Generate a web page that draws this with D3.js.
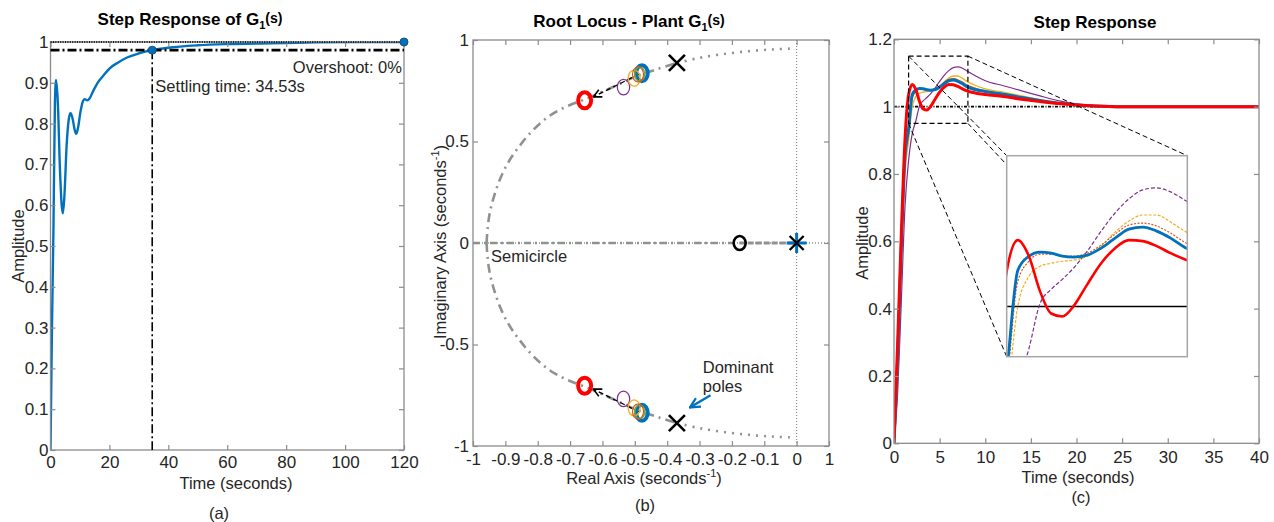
<!DOCTYPE html>
<html>
<head>
<meta charset="utf-8">
<script src="https://cdn.jsdelivr.net/npm/d3@7/dist/d3.min.js"></script>
<style>
  body { margin: 0; background: #fff; }
  svg text { font-family: "Liberation Sans", Arial, sans-serif; fill: #262626; }
  .tick text { font-size: 17px; }
  .lbl { font-size: 16.5px; }
  .ttl { font-size: 17px; font-weight: bold; fill: #000; }
</style>
</head>
<body>
<div id="fig"></div>
<script>
// ---------- (a) step response of G1(s) ----------
var aTime = [0, 0.5, 1.0, 1.5, 1.9, 2.5, 3.2, 3.8, 4.2, 4.7, 5.5, 6.2, 6.8, 7.5, 8.2, 8.7, 9.3, 10.2, 11.0, 11.6,
             12.5, 13.3, 14.5, 16, 18, 20, 23, 26, 30, 34.53, 40, 50, 60, 75, 90, 105, 120];
var aAmp  = [0, 0.3, 0.54, 0.85, 0.907, 0.85, 0.69, 0.6, 0.58, 0.62, 0.75, 0.81, 0.826, 0.812, 0.785, 0.775, 0.788, 0.83, 0.855, 0.86,
             0.857, 0.862, 0.88, 0.9, 0.918, 0.935, 0.95, 0.962, 0.972, 0.98, 0.986, 0.992, 0.995, 0.997, 0.999, 1.0, 1.0];
var aSettleT = 34.53, aSettleY = 0.98, aFinalT = 120, aFinalY = 1;
var aXTicks = [0, 20, 40, 60, 80, 100, 120];
var aXLabels = ["0", "20", "40", "60", "80", "100", "120"];
var aYTicks = [0, 0.1, 0.2, 0.3, 0.4, 0.5, 0.6, 0.7, 0.8, 0.9, 1];
var aYLabels = ["0", "0.1", "0.2", "0.3", "0.4", "0.5", "0.6", "0.7", "0.8", "0.9", "1"];

// ---------- (b) root locus ----------
var locusRe = [-0.958, -0.955, -0.948, -0.935, -0.915, -0.89, -0.86, -0.824, -0.785, -0.745, -0.7,
               -0.655, -0.6, -0.545, -0.49, -0.43, -0.37, -0.3, -0.22, -0.14, -0.07, -0.015];
var locusIm = [0, 0.07, 0.15, 0.23, 0.32, 0.4, 0.47, 0.54, 0.6, 0.645, 0.68,
               0.707, 0.745, 0.785, 0.825, 0.857, 0.887, 0.912, 0.932, 0.946, 0.954, 0.958];
var locusSplit = 16;                    // index of the open-loop complex pole
var olPoleRe = -0.37, olPoleIm = 0.887; // plant complex poles (x)
var olZeroRe = -0.176;                  // plant zero (o)
var olOriginRe = 0;                     // integrator pole (*)
var clNames = ["purple", "orange", "orangered", "green", "blue", "red"];
var clRe = [-0.535, -0.502, -0.49, -0.485, -0.478, -0.655];
var clIm = [0.768, 0.812, 0.83, 0.832, 0.836, 0.703];
var arrowFrom = [-0.487, 0.832], arrowTo = [-0.628, 0.72];
var domFrom = [-0.266, -0.75], domTo = [-0.33, -0.81];
var bXTicks = [-1, -0.9, -0.8, -0.7, -0.6, -0.5, -0.4, -0.3, -0.2, -0.1, 0, 0.1];
var bXLabels = ["-1", "-0.9", "-0.8", "-0.7", "-0.6", "-0.5", "-0.4", "-0.3", "-0.2", "-0.1", "0", "1"];
var bYTicks = [-1, -0.5, 0, 0.5, 1];
var bYLabels = ["-1", "-0.5", "0", "0.5", "1"];

// ---------- (c) closed-loop step responses ----------
var cTime      = [0, 0.4, 0.8, 1.2, 1.6, 2.0, 2.4, 2.8, 3.2, 3.6, 4.0, 4.5, 5.0, 5.5, 6.0, 6.5, 7.0, 7.5, 8.0, 9, 10, 12, 14, 16, 18, 20, 22, 25, 30, 35, 40];
var cRed       = [0, 0.3, 0.62, 0.9, 1.035, 1.066, 1.05, 1.015, 0.993, 0.99, 1.0, 1.022, 1.043, 1.058, 1.066, 1.065, 1.06, 1.053, 1.047, 1.04, 1.036, 1.03, 1.022, 1.015, 1.009, 1.005, 1.002, 1.0, 1.0, 1.0, 1.0];
var cBlue      = [0, 0.25, 0.58, 0.85, 0.935, 1.036, 1.05, 1.054, 1.053, 1.05, 1.049, 1.051, 1.058, 1.068, 1.077, 1.079, 1.075, 1.068, 1.059, 1.05, 1.045, 1.037, 1.027, 1.018, 1.01, 1.005, 1.002, 1.0, 1.0, 1.0, 1.0];
var cOrangeRed = [0, 0.24, 0.56, 0.83, 0.92, 1.025, 1.045, 1.052, 1.052, 1.05, 1.05, 1.053, 1.061, 1.072, 1.081, 1.083, 1.08, 1.073, 1.064, 1.054, 1.047, 1.039, 1.029, 1.019, 1.011, 1.005, 1.002, 1.0, 1.0, 1.0, 1.0];
var cOrange    = [0, 0.22, 0.53, 0.8, 0.9, 1.0, 1.03, 1.04, 1.043, 1.045, 1.046, 1.05, 1.06, 1.074, 1.085, 1.091, 1.091, 1.084, 1.075, 1.062, 1.053, 1.043, 1.032, 1.021, 1.012, 1.006, 1.002, 1.0, 1.0, 1.0, 1.0];
var cPurple    = [0, 0.15, 0.42, 0.7, 0.84, 0.92, 0.958, 1.003, 1.017, 1.027, 1.038, 1.055, 1.075, 1.093, 1.107, 1.116, 1.118, 1.114, 1.106, 1.09, 1.077, 1.062, 1.047, 1.032, 1.018, 1.008, 1.003, 1.0, 1.0, 1.0, 1.0];
var zoomT = [1.6, 8.1], zoomY = [0.95, 1.15];
var cXTicks = [0, 5, 10, 15, 20, 25, 30, 35, 40];
var cXLabels = ["0", "5", "10", "15", "20", "25", "30", "35", "40"];
var cYTicks = [0, 0.2, 0.4, 0.6, 0.8, 1, 1.2];
var cYLabels = ["0", "0.2", "0.4", "0.6", "0.8", "1", "1.2"];

var BLUE = "#0072BD", RED = "#FF0000", ORED = "#D95319", ORANGE = "#EDB120", PURPLE = "#7E2F8E", GREEN = "#77AC30";
var AX = "#8c8c8c";
var GRAYLOC = "#8e938e";

var svg = d3.select("#fig").append("svg").attr("width", 1274).attr("height", 522);
var defs = svg.append("defs");

// MATLAB style box with inward ticks on all sides
function frame(x, y, o) {
    var xr = x.range(), yr = y.range();
    var g = svg.append("g");
    g.append("rect").attr("x", xr[0]).attr("y", yr[1]).attr("width", xr[1] - xr[0]).attr("height", yr[0] - yr[1])
        .attr("fill", "none").attr("stroke", AX).attr("stroke-width", 1.3);
    var lab = function (arr) { return function (d, i) { return arr[i]; }; };
    var none = function () { return ""; };
    var axes = [
        g.append("g").attr("transform", "translate(0," + yr[0] + ")")
            .call(d3.axisBottom(x).tickValues(o.xTicks).tickFormat(lab(o.xLabels)).tickSize(-5).tickPadding(o.xPad)),
        g.append("g").attr("transform", "translate(0," + yr[1] + ")")
            .call(d3.axisTop(x).tickValues(o.xTicks).tickFormat(none).tickSize(-5)),
        g.append("g").attr("transform", "translate(" + xr[0] + ",0)")
            .call(d3.axisLeft(y).tickValues(o.yTicks).tickFormat(lab(o.yLabels)).tickSize(-5).tickPadding(o.yPad)),
        g.append("g").attr("transform", "translate(" + xr[1] + ",0)")
            .call(d3.axisRight(y).tickValues(o.yTicks).tickFormat(none).tickSize(-5))
    ];
    axes.forEach(function (a) {
        a.select(".domain").remove();
        a.selectAll(".tick line").attr("stroke", AX).attr("stroke-width", 1.2);
    });
    return g;
}

function clip(id, x, y) {
    var xr = x.range(), yr = y.range();
    defs.append("clipPath").attr("id", id).append("rect")
        .attr("x", xr[0]).attr("y", yr[1]).attr("width", xr[1] - xr[0]).attr("height", yr[0] - yr[1]);
    return "url(#" + id + ")";
}

function title(cx, cy, main, sub, tail) {
    var t = svg.append("text").attr("class", "ttl").attr("x", cx).attr("y", cy).attr("text-anchor", "middle");
    t.append("tspan").text(main);
    if (sub) t.append("tspan").attr("font-size", "11px").attr("dy", 4).text(sub);
    if (tail) t.append("tspan").attr("font-size", "14px").attr("dy", -6).text(tail);
}

function secLabel(t, pre) {
    t.append("tspan").text(pre + " (seconds");
    t.append("tspan").attr("font-size", "11px").attr("dy", -7).text("-1");
    t.append("tspan").attr("dy", 7).text(")");
}

/* ===================== panel (a) ===================== */
var xA = d3.scaleLinear().domain([0, 120]).range([50.5, 404]);
var yA = d3.scaleLinear().domain([0, 1]).range([450, 42]);
var clipA = clip("clipA", xA, yA);

svg.append("path").datum(d3.zip(aTime, aAmp))
    .attr("clip-path", clipA)
    .attr("fill", "none").attr("stroke", BLUE).attr("stroke-width", 2.4)
    .attr("d", d3.line().x(function (d) { return xA(d[0]); }).y(function (d) { return yA(d[1]); }).curve(d3.curveMonotoneX));

frame(xA, yA, {xTicks: aXTicks, xLabels: aXLabels, yTicks: aYTicks, yLabels: aYLabels, xPad: 6, yPad: 2});

// steady-state and settling lines
svg.append("line").attr("x1", xA(0)).attr("x2", xA(120)).attr("y1", yA(aFinalY)).attr("y2", yA(aFinalY))
    .attr("stroke", "#222").attr("stroke-width", 2).attr("stroke-dasharray", "1.2,1.2");
svg.append("line").attr("x1", xA(0)).attr("x2", xA(120)).attr("y1", yA(aSettleY)).attr("y2", yA(aSettleY))
    .attr("stroke", "#000").attr("stroke-width", 2.6).attr("stroke-dasharray", "9,3,2,3");
svg.append("line").attr("x1", xA(aSettleT)).attr("x2", xA(aSettleT)).attr("y1", yA(aSettleY)).attr("y2", yA(0))
    .attr("stroke", "#000").attr("stroke-width", 1.6).attr("stroke-dasharray", "9,3,2,3");
svg.selectAll(".amark").data([[aSettleT, aSettleY], [aFinalT, aFinalY]]).enter().append("circle")
    .attr("cx", function (d) { return xA(d[0]); }).attr("cy", function (d) { return yA(d[1]); })
    .attr("r", 4).attr("fill", BLUE).attr("stroke", "#1f4f80").attr("stroke-width", 1);

svg.append("text").attr("class", "lbl").attr("x", xA(119.3)).attr("y", yA(0.925)).attr("text-anchor", "end").text("Overshoot: 0%");
svg.append("text").attr("class", "lbl").attr("x", xA(35.6)).attr("y", yA(0.878)).text("Settling time: 34.53s");

title(190, 25, "Step Response of G", "1", "(s)");
svg.append("text").attr("class", "lbl").attr("transform", "translate(24,246) rotate(-90)").attr("text-anchor", "middle").text("Amplitude");
svg.append("text").attr("class", "lbl").attr("x", 236).attr("y", 489).attr("text-anchor", "middle").text("Time (seconds)");
svg.append("text").attr("class", "lbl").attr("x", 219).attr("y", 519).attr("text-anchor", "middle").text("(a)");

/* ===================== panel (b) ===================== */
var xB = d3.scaleLinear().domain([-1, 0.1]).range([473, 829]);
var yB = d3.scaleLinear().domain([-1, 1]).range([446, 40]);
var clipB = clip("clipB", xB, yB);
var gB = svg.append("g").attr("clip-path", clipB);
var lineB = d3.line().x(function (d) { return xB(d[0]); }).y(function (d) { return yB(d[1]); }).curve(d3.curveCatmullRom);

// grid-like axes through the origin
gB.append("line").attr("x1", xB(-1)).attr("x2", xB(0.1)).attr("y1", yB(0)).attr("y2", yB(0))
    .attr("stroke", "#555").attr("stroke-width", 1).attr("stroke-dasharray", "1,2");
gB.append("line").attr("x1", xB(0)).attr("x2", xB(0)).attr("y1", yB(1)).attr("y2", yB(-1))
    .attr("stroke", "#777").attr("stroke-width", 1).attr("stroke-dasharray", "1,2");

// real-axis branches
gB.append("line").attr("x1", xB(-1)).attr("x2", xB(olZeroRe)).attr("y1", yB(0)).attr("y2", yB(0))
    .attr("stroke", GRAYLOC).attr("stroke-width", 2.6).attr("stroke-dasharray", "7,4,2,4");
gB.append("line").attr("x1", xB(olZeroRe)).attr("x2", xB(olOriginRe)).attr("y1", yB(0)).attr("y2", yB(0))
    .attr("stroke", GRAYLOC).attr("stroke-width", 3).attr("stroke-dasharray", "6,2");

// complex branches (upper and mirrored lower)
[1, -1].forEach(function (s) {
    var pts = d3.zip(locusRe, locusIm.map(function (v) { return s * v; }));
    gB.append("path").datum(pts.slice(0, locusSplit + 1))
        .attr("fill", "none").attr("stroke", GRAYLOC).attr("stroke-width", 2.6)
        .attr("stroke-dasharray", "9,5,2,5").attr("d", lineB);
    gB.append("path").datum(pts.slice(locusSplit))
        .attr("fill", "none").attr("stroke", GRAYLOC).attr("stroke-width", 2.6)
        .attr("stroke-dasharray", "2,6").attr("d", lineB);
});

frame(xB, yB, {xTicks: bXTicks, xLabels: bXLabels, yTicks: bYTicks, yLabels: bYLabels, xPad: 7, yPad: 4});

// arrow heads: tip at the end of the line, open chevron
defs.append("marker").attr("id", "openHead").attr("viewBox", "0 0 10 10").attr("refX", 9).attr("refY", 5)
    .attr("markerWidth", 10).attr("markerHeight", 10).attr("markerUnits", "userSpaceOnUse").attr("orient", "auto")
    .append("path").attr("d", "M1,1L9,5L1,9").attr("fill", "none").attr("stroke", "#000").attr("stroke-width", 1.6);
defs.append("marker").attr("id", "blueHead").attr("viewBox", "0 0 12 12").attr("refX", 11).attr("refY", 6)
    .attr("markerWidth", 12).attr("markerHeight", 12).attr("markerUnits", "userSpaceOnUse").attr("orient", "auto")
    .append("path").attr("d", "M1,1L11,6L1,11").attr("fill", "none").attr("stroke", BLUE).attr("stroke-width", 2.2);

[1, -1].forEach(function (s) {
    svg.append("line").attr("x1", xB(arrowFrom[0])).attr("y1", yB(s * arrowFrom[1]))
        .attr("x2", xB(arrowTo[0])).attr("y2", yB(s * arrowTo[1]))
        .attr("stroke", "#000").attr("stroke-width", 1.3).attr("stroke-dasharray", "5,3")
        .attr("marker-end", "url(#openHead)");
});

// closed-loop poles
var ringStyle = {
    purple:    {c: PURPLE, rx: 6.2, ry: 7.8, w: 1.2},
    orange:    {c: ORANGE, rx: 6, ry: 8, w: 1.3},
    orangered: {c: ORED, rx: 5.5, ry: 7.5, w: 1.2},
    green:     {c: GREEN, rx: 5, ry: 7, w: 1.4},
    blue:      {c: BLUE, rx: 5.8, ry: 8, w: 4},
    red:       {c: RED, rx: 6.5, ry: 8, w: 4}
};
// blue under the thin rings so the cluster reads like the figure
var ringOrder = ["blue", "purple", "orange", "green", "orangered", "red"];
ringOrder.forEach(function (name) {
    var i = clNames.indexOf(name), st = ringStyle[name];
    [1, -1].forEach(function (s) {
        svg.append("ellipse").attr("cx", xB(clRe[i])).attr("cy", yB(s * clIm[i]))
            .attr("rx", st.rx).attr("ry", st.ry).attr("fill", "none")
            .attr("stroke", st.c).attr("stroke-width", st.w);
    });
});

// plant poles and zero
[1, -1].forEach(function (s) {
    svg.append("path").attr("transform", "translate(" + xB(olPoleRe) + "," + yB(s * olPoleIm) + ")")
        .attr("d", "M-8,-8L8,8M-8,8L8,-8").attr("stroke", "#000").attr("stroke-width", 2.6);
});
svg.append("ellipse").attr("cx", xB(olZeroRe)).attr("cy", yB(0)).attr("rx", 6).attr("ry", 7)
    .attr("fill", "none").attr("stroke", "#000").attr("stroke-width", 2.6);
var ast = svg.append("g").attr("transform", "translate(" + xB(olOriginRe) + "," + yB(0) + ")");
ast.append("path").attr("d", "M-10,0L10,0M0,-10L0,10").attr("stroke", BLUE).attr("stroke-width", 3);
ast.append("path").attr("d", "M-7,-7L7,7M-7,7L7,-7").attr("stroke", "#000").attr("stroke-width", 2.4);

// annotations
svg.append("text").attr("class", "lbl").attr("x", xB(-0.944)).attr("y", yB(-0.094)).text("Semicircle");
svg.append("text").attr("class", "lbl").attr("x", xB(-0.29)).attr("y", yB(-0.64)).text("Dominant");
svg.append("text").attr("class", "lbl").attr("x", xB(-0.29)).attr("y", yB(-0.735)).text("poles");
svg.append("line").attr("x1", xB(domFrom[0])).attr("y1", yB(domFrom[1])).attr("x2", xB(domTo[0])).attr("y2", yB(domTo[1]))
    .attr("stroke", BLUE).attr("stroke-width", 2.4).attr("marker-end", "url(#blueHead)");

title(629, 27, "Root Locus - Plant G", "1", "(s)");
secLabel(svg.append("text").attr("class", "lbl").attr("transform", "translate(446,242) rotate(-90)").attr("text-anchor", "middle"), "Imaginary Axis");
secLabel(svg.append("text").attr("class", "lbl").attr("x", 644).attr("y", 484).attr("text-anchor", "middle"), "Real Axis");
svg.append("text").attr("class", "lbl").attr("x", 645).attr("y", 511).attr("text-anchor", "middle").text("(b)");

/* ===================== panel (c) ===================== */
var xC = d3.scaleLinear().domain([0, 40]).range([894, 1259]);
var yC = d3.scaleLinear().domain([0, 1.2]).range([443.3, 39.3]);
var clipC = clip("clipC", xC, yC);

var series = [
    {v: cPurple, c: PURPLE, w: 1.2, dash: "4,2", wi: 1.2},
    {v: cOrange, c: ORANGE, w: 1.3, dash: "3,1.5", wi: 1.2},
    {v: cOrangeRed, c: ORED, w: 1.2, dash: "2,1.5", wi: 1.2},
    {v: cBlue, c: BLUE, w: 3, dash: null, wi: 2.8},
    {v: cRed, c: RED, w: 3, dash: null, wi: 2.6}
];

function drawCurves(g, x, y, inset) {
    var ln = d3.line().x(function (d) { return x(d[0]); }).y(function (d) { return y(d[1]); }).curve(d3.curveMonotoneX);
    series.forEach(function (s) {
        g.append("path").datum(d3.zip(cTime, s.v))
            .attr("fill", "none").attr("stroke", s.c).attr("stroke-width", inset ? s.wi : s.w)
            .attr("stroke-dasharray", inset ? s.dash : null).attr("d", ln);
    });
}

var gC = svg.append("g").attr("clip-path", clipC);
gC.append("line").attr("x1", xC(0)).attr("x2", xC(40)).attr("y1", yC(1)).attr("y2", yC(1))
    .attr("stroke", "#000").attr("stroke-width", 1.8).attr("stroke-dasharray", "3,1.5,1,1.5");
drawCurves(gC, xC, yC, false);

frame(xC, yC, {xTicks: cXTicks, xLabels: cXLabels, yTicks: cYTicks, yLabels: cYLabels, xPad: 8, yPad: 2});

// zoom box and inset axes
var xI = d3.scaleLinear().domain(zoomT).range([1006.7, 1187.3]);
var yI = d3.scaleLinear().domain(zoomY).range([356.7, 155.7]);
var boxCorners = [[zoomT[0], zoomY[1]], [zoomT[1], zoomY[1]], [zoomT[0], zoomY[0]], [zoomT[1], zoomY[0]]];
boxCorners.forEach(function (d) {
    svg.append("line").attr("x1", xC(d[0])).attr("y1", yC(d[1])).attr("x2", xI(d[0])).attr("y2", yI(d[1]))
        .attr("stroke", "#000").attr("stroke-width", 1).attr("stroke-dasharray", "5,3");
});
svg.append("rect").attr("x", xC(zoomT[0])).attr("y", yC(zoomY[1]))
    .attr("width", xC(zoomT[1]) - xC(zoomT[0])).attr("height", yC(zoomY[0]) - yC(zoomY[1]))
    .attr("fill", "none").attr("stroke", "#000").attr("stroke-width", 1.2).attr("stroke-dasharray", "5,3");

svg.append("rect").attr("x", xI.range()[0]).attr("y", yI.range()[1])
    .attr("width", xI.range()[1] - xI.range()[0]).attr("height", yI.range()[0] - yI.range()[1])
    .attr("fill", "#fff");
var clipI = clip("clipI", xI, yI);
var gI = svg.append("g").attr("clip-path", clipI);
gI.append("line").attr("x1", xI(zoomT[0])).attr("x2", xI(zoomT[1])).attr("y1", yI(1)).attr("y2", yI(1))
    .attr("stroke", "#000").attr("stroke-width", 1.6);
drawCurves(gI, xI, yI, true);
svg.append("rect").attr("x", xI.range()[0]).attr("y", yI.range()[1])
    .attr("width", xI.range()[1] - xI.range()[0]).attr("height", yI.range()[0] - yI.range()[1])
    .attr("fill", "none").attr("stroke", "#a6a6a6").attr("stroke-width", 1.5);

title(1095, 28, "Step Response");
svg.append("text").attr("class", "lbl").attr("transform", "translate(868,243) rotate(-90)").attr("text-anchor", "middle").text("Amplitude");
svg.append("text").attr("class", "lbl").attr("x", 1078).attr("y", 483).attr("text-anchor", "middle").text("Time (seconds)");
svg.append("text").attr("class", "lbl").attr("x", 1081).attr("y", 503).attr("text-anchor", "middle").text("(c)");
</script>
</body>
</html>
